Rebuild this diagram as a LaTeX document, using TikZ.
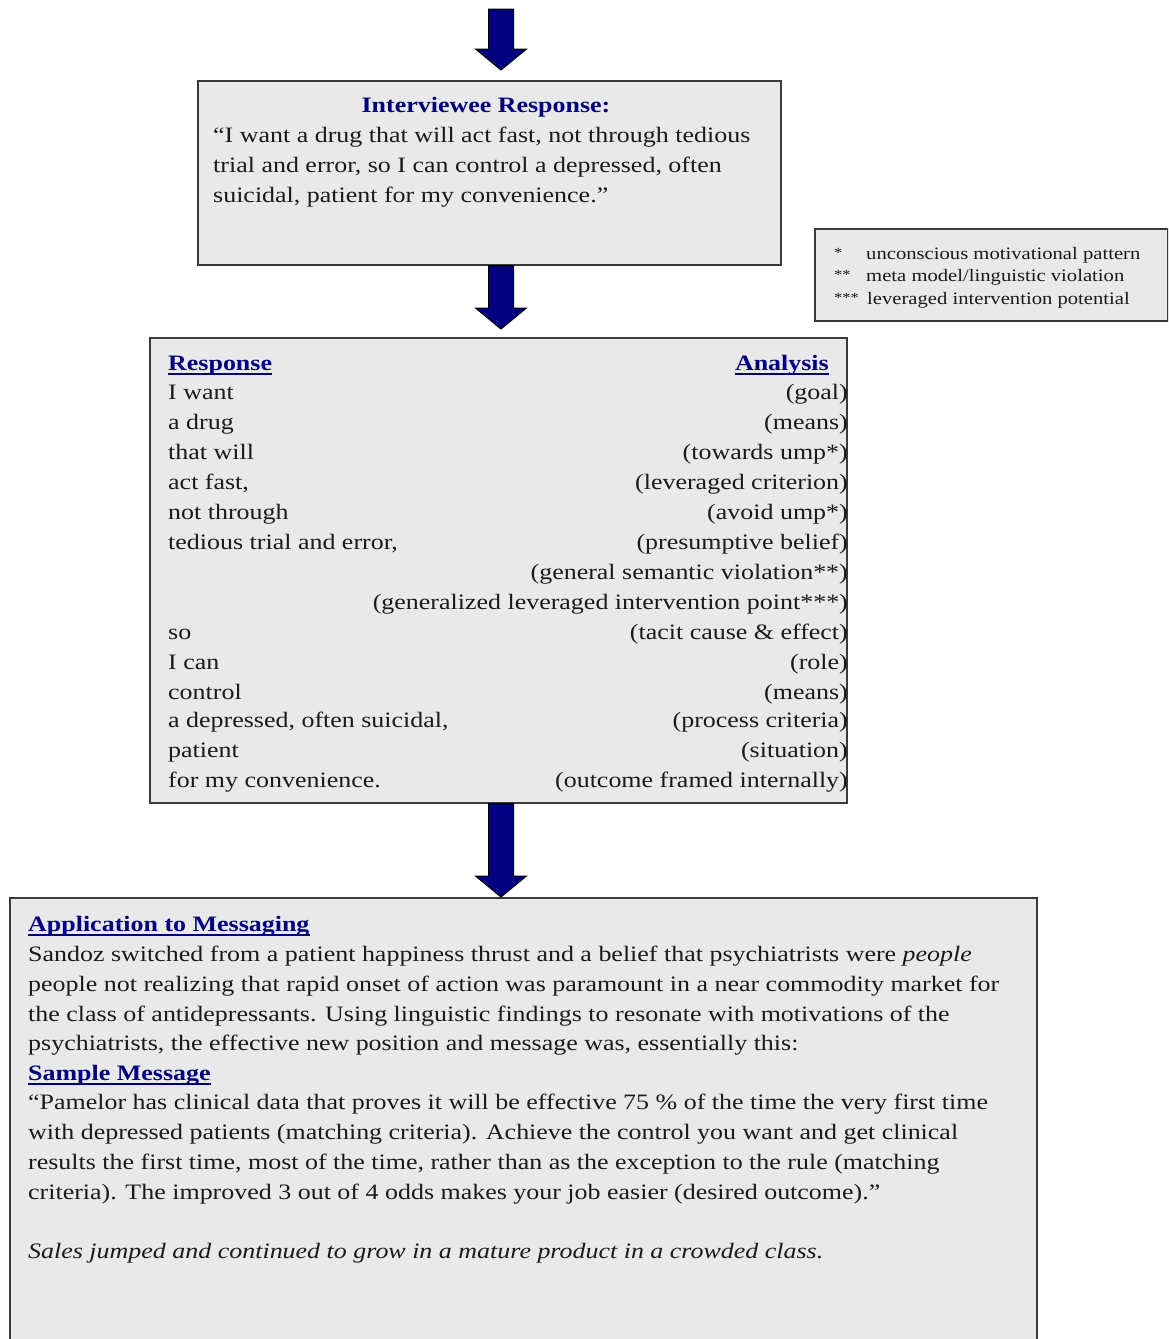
\documentclass[tikz,border=0pt]{standalone}
\usepackage{fontspec}
\setmainfont[FakeStretch=1.18]{Liberation Serif}
\usetikzlibrary{calc}
\definecolor{boxfill}{HTML}{E9E9E9}
\definecolor{boxline}{HTML}{3A3A3A}
\definecolor{navyblue}{HTML}{000080}
\definecolor{ink}{HTML}{1A1A1A}
\newcommand\bodyfont{\fontsize{22}{26}\selectfont}
\newcommand\legfont{\fontsize{17.5}{20}\selectfont}
\newcommand\starfont{\fontsize{14}{16}\selectfont}
\newcommand\bigarrow[2]{\path let \p1=#1, \p2=#2 in [draw=black, line width=1pt, fill=navyblue]
  (\x1-12.5pt,\y1) -- (\x1+12.5pt,\y1) -- (\x1+12.5pt,\y2+21pt) -- (\x1+25.5pt,\y2+21pt)
  -- (\x1,\y2) -- (\x1-25.5pt,\y2+21pt) -- (\x1-12.5pt,\y2+21pt) -- cycle;}
\tikzset{
  box/.style={draw=boxline, line width=1.6pt, fill=boxfill, anchor=north west, inner sep=0pt},
  txt/.style={anchor=base west, inner sep=0pt, text=ink, font=\bodyfont},
  rtxt/.style={anchor=base east, inner sep=0pt, text=ink, font=\bodyfont},
  hd/.style={inner sep=0pt, text=navyblue, font=\bodyfont\bfseries},
  ul/.style={draw=navyblue, line width=1.3pt},
  leg/.style={anchor=base west, inner sep=0pt, text=ink, font=\legfont},
  star/.style={anchor=base west, inner sep=0pt, text=ink, font=\starfont},
}
\begin{document}
\begin{tikzpicture}[x=1pt,y=-1pt]
\useasboundingbox (0,0) rectangle (1168,1339);
\clip (0,0) rectangle (1168,1339);
\fill[white] (0,0) rectangle (1168,1339);
% boxes
\node[box, minimum width=583, minimum height=184] (b1) at (197,80) {};
\node[box, minimum width=353, minimum height=92] (leg) at (814,228) {};
\node[box, minimum width=697, minimum height=465] (b2) at (149,337) {};
\node[box, minimum width=1027, minimum height=470] (b3) at (9,897) {};
% arrows
\coordinate (ax) at (501,0);
\coordinate (start) at (501,9);
\bigarrow{(start)}{($(ax |- b1.north)+(0,-10)$)}
\bigarrow{(ax |- b1.south)}{($(ax |- b2.north)+(0,-8)$)}
\bigarrow{(ax |- b2.south)}{(ax |- b3.north)}
% box 1
\node[hd, anchor=base] (t1) at (486,112) {Interviewee Response:};
\node[txt] (l11) at (213,142) {“I want a drug that will act fast, not through tedious};
\node[txt] (l12) at (213,172) {trial and error, so I can control a depressed, often};
\node[txt] (l13) at (213,202) {suicidal, patient for my convenience.”};
% legend
\node[star] (s1) at (834,257) {*};
\node[star] (s2) at (834,279) {**};
\node[star] (s3) at (834,302) {***};
\node[leg] (g1) at (866,259) {unconscious motivational pattern};
\node[leg] (g2) at (866,281) {meta model/linguistic violation};
\node[leg] (g3) at (867,304) {leveraged intervention potential};
% box 2
\node[hd, anchor=base west] (hr) at (168,370) {Response};
\node[hd, anchor=base east] (ha) at (829,370) {Analysis};
\draw[ul] ([yshift=-4pt]hr.base west) -- ([yshift=-4pt]hr.base east);
\draw[ul] ([yshift=-4pt]ha.base west) -- ([yshift=-4pt]ha.base east);
\foreach \i/\y/\l/\r in {
  1/399/{I want}/{(goal)},
  2/429/{a drug}/{(means)},
  3/459/{that will}/{(towards ump*)},
  4/489/{act fast,}/{(leveraged criterion)},
  5/519/{not through}/{(avoid ump*)},
  6/549/{tedious trial and error,}/{(presumptive belief)},
  7/579/{}/{(general semantic violation**)},
  8/609/{}/{(generalized leveraged intervention point***)},
  9/639/{so}/{(tacit cause \& effect)},
  10/669/{I can}/{(role)},
  11/699/{control}/{(means)},
  12/727/{a depressed, often suicidal,}/{(process criteria)},
  13/757/{patient}/{(situation)},
  14/787/{for my convenience.}/{(outcome framed internally)}}{
  \node[txt] (r\i) at (168,\y) {\l};
  \node[rtxt] (a\i) at (848,\y) {\r};
}
% box 3
\node[hd, anchor=base west] (h3) at (28,931) {Application to Messaging};
\draw[ul] ([yshift=-4pt]h3.base west) -- ([yshift=-4pt]h3.base east);
\node[txt] (p1) at (28,961) {Sandoz switched from a patient happiness thrust and a belief that psychiatrists were \textit{people}};
\node[txt] (p2) at (28,991) {people not realizing that rapid onset of action was paramount in a near commodity market for};
\node[txt] (p3) at (28,1021) {the class of antidepressants. Using linguistic findings to resonate with motivations of the};
\node[txt] (p4) at (28,1050) {psychiatrists, the effective new position and message was, essentially this:};
\node[hd, anchor=base west] (h4) at (28,1080) {Sample Message};
\draw[ul] ([yshift=-4pt]h4.base west) -- ([yshift=-4pt]h4.base east);
\node[txt] (m1) at (28,1109) {“Pamelor has clinical data that proves it will be effective 75 \% of the time the very first time};
\node[txt] (m2) at (28,1139) {with depressed patients (matching criteria). Achieve the control you want and get clinical};
\node[txt] (m3) at (28,1169) {results the first time, most of the time, rather than as the exception to the rule (matching};
\node[txt] (m4) at (28,1199) {criteria). The improved 3 out of 4 odds makes your job easier (desired outcome).”};
\node[txt] (sj) at (28,1258) {\textit{Sales jumped and continued to grow in a mature product in a crowded class.}};
\end{tikzpicture}
\end{document}
